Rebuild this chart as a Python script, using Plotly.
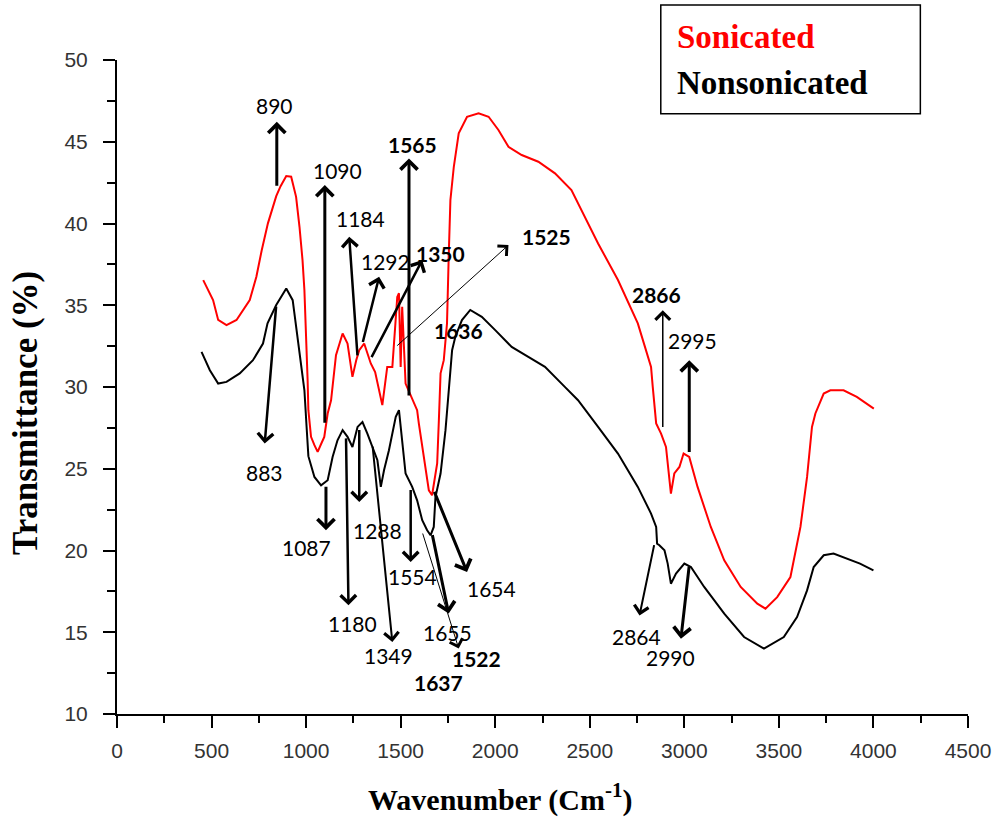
import plotly.graph_objects as go

# FTIR spectra: wavenumber (cm-1) and transmittance (%)
son_wn = [456, 508, 535, 579, 632, 666, 702, 737, 765, 798, 817, 842, 865, 895, 921, 947, 965, 981,
          991, 1000, 1008, 1012, 1026, 1044, 1061, 1081, 1096, 1114, 1132, 1158, 1193, 1219, 1245,
          1265, 1281, 1307, 1342, 1365, 1386, 1403, 1429, 1456, 1482, 1491, 1500, 1508, 1526, 1561,
          1587, 1596, 1623, 1649, 1666, 1693, 1702, 1711, 1728, 1745, 1754, 1763, 1781, 1807, 1851,
          1912, 1965, 2017, 2070, 2140, 2228, 2316, 2403, 2456, 2544, 2649, 2754, 2789, 2824, 2833,
          2851, 2877, 2903, 2929, 2947, 2974, 2996, 3026, 3070, 3140, 3211, 3298, 3386, 3429, 3491,
          3561, 3614, 3649, 3675, 3693, 3737, 3772, 3842, 3912, 4002]
son_t = [36.54, 35.32, 34.10, 33.79, 34.10, 34.71, 35.32, 36.74, 38.35, 40.01, 40.75, 41.67, 42.28,
         42.90, 42.86, 41.63, 39.80, 37.76, 35.92, 33.29, 30.42, 28.58, 26.95, 26.44, 26.03, 26.56,
         26.95, 28.38, 29.19, 31.95, 33.27, 32.66, 30.62, 31.64, 32.25, 32.66, 31.44, 30.91, 29.80,
         28.89, 31.23, 31.23, 35.51, 35.74, 31.23, 34.90, 30.21, 29.31, 28.58, 27.77, 25.72, 23.68,
         23.38, 25.32, 27.97, 30.84, 31.64, 33.89, 37.96, 41.43, 43.47, 45.51, 46.53, 46.74, 46.53,
         45.72, 44.69, 44.19, 43.78, 43.07, 42.04, 40.82, 38.78, 36.54, 33.89, 32.56, 31.23, 30.01,
         27.77, 27.15, 26.33, 23.48, 24.71, 25.11, 25.93, 25.72, 23.89, 21.44, 19.40, 17.77, 16.75,
         16.44, 17.15, 18.38, 21.44, 24.50, 27.56, 28.38, 29.60, 29.80, 29.80, 29.39, 28.68]

non_wn = [447, 491, 535, 579, 649, 719, 772, 796, 842, 895, 929, 947, 970, 991, 1002, 1012, 1044,
          1079, 1114, 1140, 1166, 1193, 1219, 1245, 1272, 1298, 1324, 1351, 1377, 1395, 1412, 1438,
          1474, 1491, 1508, 1526, 1561, 1587, 1614, 1640, 1658, 1675, 1684, 1711, 1737, 1754, 1763,
          1772, 1789, 1824, 1868, 1929, 2000, 2087, 2175, 2263, 2368, 2438, 2544, 2649, 2754, 2824,
          2851, 2856, 2868, 2895, 2912, 2929, 2956, 3000, 3035, 3105, 3211, 3316, 3421, 3526, 3596,
          3649, 3684, 3737, 3789, 3860, 3929, 4000]
non_t = [32.15, 31.03, 30.21, 30.31, 30.83, 31.64, 32.66, 33.89, 35.01, 36.03, 35.31, 33.78, 31.64,
         29.80, 27.66, 25.77, 24.50, 23.99, 24.30, 25.72, 26.74, 27.36, 26.95, 26.33, 27.56, 27.86,
         27.15, 26.33, 25.52, 23.89, 24.91, 26.13, 28.17, 28.58, 26.74, 24.71, 23.89, 23.07, 21.85,
         21.24, 20.93, 21.44, 23.27, 24.71, 27.36, 29.60, 30.83, 32.25, 33.07, 34.09, 34.71, 34.29,
         33.48, 32.45, 31.84, 31.23, 30.01, 29.19, 27.56, 25.93, 23.89, 22.26, 21.44, 20.42, 20.32,
         20.01, 19.20, 17.97, 18.59, 19.20, 18.99, 17.77, 16.14, 14.71, 14.00, 14.71, 15.93, 17.56,
         18.99, 19.71, 19.81, 19.50, 19.20, 18.79]

x_ticks = [0, 500, 1000, 1500, 2000, 2500, 3000, 3500, 4000, 4500]
y_ticks = [10, 15, 20, 25, 30, 35, 40, 45, 50]

# Band labels: text, bold
band_labels = ["890", "1090", "1184", "1292", "1350", "1565", "1525", "1636",
               "883", "1087", "1180", "1288", "1349", "1554", "1654", "1655", "1522", "1637",
               "2866", "2995", "2864", "2990"]
band_bold = [False, False, False, False, True, True, True, True,
             False, False, False, False, False, False, False, False, True, True,
             True, False, False, False]

# Arrow geometry per label: (tail x, tail y, head x, head y, line width, head size) or None
arrow_geom = [
    (845, 42.21, 845, 46.22, 3, 1.1),
    (1099, 27.72, 1099, 42.35, 3, 1.1),
    (1272, 31.84, 1228, 39.19, 2.5, 1.2),
    (1298, 32.66, 1386, 36.74, 2.5, 1.2),
    (1342, 31.74, 1614, 37.76, 2.5, 1.2),
    (1544, 29.39, 1544, 43.98, 3, 1.1),
    (1474, 32.45, 2070, 38.68, 1, 2.6),
    None,
    (842, 35.01, 781, 26.54, 2.5, 1.2),
    (1105, 23.99, 1105, 21.24, 3, 1.1),
    (1211, 26.95, 1224, 16.65, 2.5, 1.2),
    (1281, 27.46, 1281, 22.97, 2.5, 1.2),
    (1351, 26.44, 1456, 14.40, 2, 1.4),
    (1553, 23.79, 1553, 19.30, 2.5, 1.2),
    (1675, 23.68, 1851, 18.68, 3, 1.1),
    (1666, 21.03, 1754, 16.14, 3, 1.1),
    (1614, 21.13, 1807, 14.00, 1, 2.6),
    None,
    (2886, 27.46, 2886, 34.70, 1.5, 1.9),
    (3026, 25.93, 3026, 31.64, 3, 1.1),
    (2842, 20.42, 2763, 16.03, 2, 1.4),
    (3026, 19.09, 2982, 14.61, 3, 1.1),
]
# Label anchor points (x, y) in data units
label_pos = [
    (833, 47.19), (1165, 43.27), (1289, 40.31), (1421, 37.66), (1711, 38.17), (1561, 44.86),
    (2272, 39.23), (1807, 33.48), (781, 24.80), (1000, 20.21), (1245, 15.53), (1377, 21.24),
    (1435, 13.59), (1561, 18.38), (1982, 17.67), (1745, 15.01), (1903, 13.38), (1702, 11.95),
    (2854, 35.66), (3044, 32.87), (2745, 14.71), (2926, 13.48),
]

fig = go.Figure()
fig.add_trace(go.Scatter(x=son_wn, y=son_t, mode="lines", name="Sonicated",
                         line=dict(color="#ff0000", width=2), showlegend=False))
fig.add_trace(go.Scatter(x=non_wn, y=non_t, mode="lines", name="Nonsonicated",
                         line=dict(color="#000000", width=2), showlegend=False))

annotations = []
for geom in arrow_geom:
    if geom is None:
        continue
    tx, ty, hx, hy, w, s = geom
    annotations.append(dict(
        x=hx, y=hy, ax=tx, ay=ty, xref="x", yref="y", axref="x", ayref="y",
        text="", showarrow=True, arrowhead=4, arrowsize=s, arrowwidth=w,
        arrowcolor="#000000", standoff=0, startstandoff=0,
    ))
for text, bold, (lx, ly) in zip(band_labels, band_bold, label_pos):
    annotations.append(dict(
        x=lx, y=ly, xref="x", yref="y", showarrow=False,
        text=f"<b>{text}</b>" if bold else text,
        font=dict(family="Lato", size=21, color="#000000"),
        xanchor="center", yanchor="middle",
    ))

# Axis titles
annotations.append(dict(
    x=0.4503, y=-0.1276, xref="paper", yref="paper", showarrow=False,
    text="<b>Wavenumber (Cm<sup>-1</sup>)</b>",
    font=dict(family="Liberation Serif", size=30, color="#000000"),
    xanchor="center", yanchor="middle",
))
annotations.append(dict(
    x=-0.1084, y=0.46, xref="paper", yref="paper", showarrow=False,
    text="<b>Transmittance (%)</b>", textangle=-90,
    font=dict(family="Liberation Serif", size=35, color="#000000"),
    xanchor="center", yanchor="middle",
))

# Series key
annotations.append(dict(
    x=0.6553, y=1.0357, xref="paper", yref="paper", showarrow=False,
    text="<b>Sonicated</b>", font=dict(family="Liberation Serif", size=33, color="#ff0000"),
    xanchor="left", yanchor="middle",
))
annotations.append(dict(
    x=0.6553, y=0.9643, xref="paper", yref="paper", showarrow=False,
    text="<b>Nonsonicated</b>", font=dict(family="Liberation Serif", size=33, color="#000000"),
    xanchor="left", yanchor="middle",
))

shapes = [dict(type="rect", xref="paper", yref="paper", x0=0.639, x1=0.944, y0=0.918, y1=1.084,
               line=dict(color="#000000", width=1.5), fillcolor="rgba(0,0,0,0)")]

tick_font = dict(family="Liberation Sans", size=21, color="#333333")

fig.update_layout(
    width=1003, height=820,
    margin=dict(l=117, r=31, t=60, b=106),
    paper_bgcolor="white", plot_bgcolor="white",
    annotations=annotations, shapes=shapes,
    xaxis=dict(
        range=[0, 4500], tickvals=x_ticks, ticktext=[str(v) for v in x_ticks],
        showgrid=False, zeroline=False, showline=True, linecolor="#000000", linewidth=2,
        ticks="outside", ticklen=12, tickwidth=2, tickcolor="#000000",
        minor=dict(ticks="outside", ticklen=7, tickwidth=2, tickcolor="#000000", dtick=250,
                   tick0=0, showgrid=False),
        tickfont=tick_font, ticklabelstandoff=5,
    ),
    yaxis=dict(
        range=[10, 50], tickvals=y_ticks, ticktext=[str(v) for v in y_ticks],
        showgrid=False, zeroline=False, showline=True, linecolor="#000000", linewidth=2,
        ticks="outside", ticklen=12, tickwidth=2, tickcolor="#000000",
        minor=dict(ticks="outside", ticklen=8, tickwidth=2, tickcolor="#000000", dtick=2.5,
                   tick0=10, showgrid=False),
        tickfont=tick_font, ticklabelstandoff=11,
    ),
)

fig.write_html("out.html")
